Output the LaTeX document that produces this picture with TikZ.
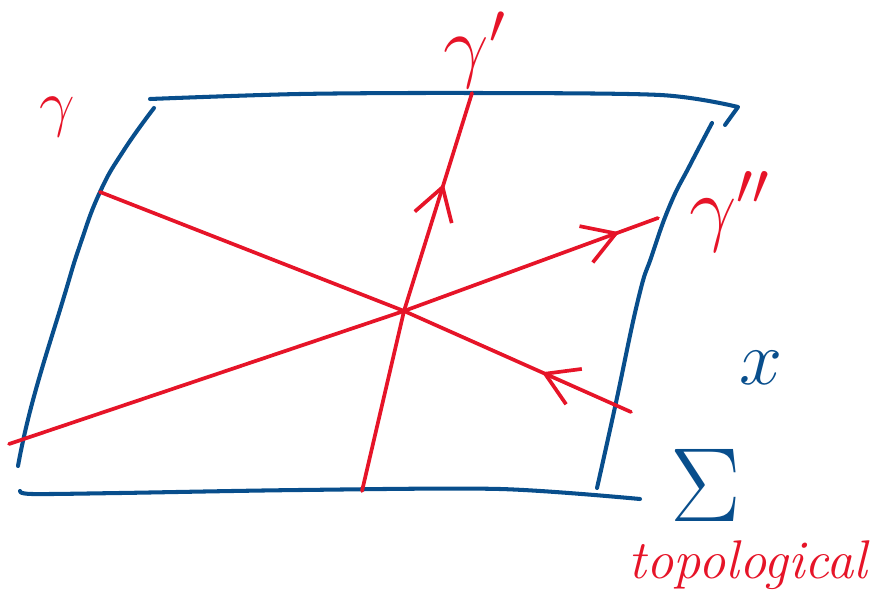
\RequirePackage{fix-cm}
\documentclass[tikz,border=0pt]{standalone}
\usetikzlibrary{arrows.meta,decorations.markings}
\definecolor{inkblue}{RGB}{8,78,140}
\definecolor{inkred}{RGB}{230,20,40}

\begin{document}
\begin{tikzpicture}[
        x=0.01cm, y=-0.01cm,
        line join=round, line cap=round,
        sheet/.style={draw=inkblue, line width=1.15pt},
        curve/.style={draw=inkred, line width=1.05pt},
        flow/.style={
            postaction={decorate, decoration={markings,
            mark=at position #1 with {\arrow{Straight Barb[length=9pt, width=11pt]}}}}
        },
        lbl/.style={inner sep=0pt}
    ]
    \useasboundingbox (0,0) rectangle (871,613);
    \path (404,311) coordinate (mid)
        (362,491) coordinate (gp-start)
        (472, 93) coordinate (gp-end)
        (631,412) coordinate (g-start)
        (100,192) coordinate (g-end)
        (  9,444) coordinate (gpp-start)
        (658,218) coordinate (gpp-end)
    ;
    % the surface, four sides
    \draw[sheet] plot[smooth] coordinates {(150,99) (300,94) (470,93) (660,95) (738,107)} -- (725,125);
    \draw[sheet] plot[smooth, tension=0.8] coordinates {(154,108) (124,150) (100,192) (80,245) (63,300) (33,400) (18,466)};
    \draw[sheet] plot[smooth, tension=0.8] coordinates {(712,123) (690,165) (670,205) (652,255) (638,300) (615,407) (597,488)};
    \draw[sheet] plot[smooth] coordinates {(20,491) (32,494) (120,493) (300,490) (500,489) (640,499)};

    % the three curves through one point
    \draw[curve, flow=0.77] (gp-start) -- (mid) -- (gp-end);
    \draw[curve, flow=0.17] (g-start) -- (mid) -- (g-end);
    \draw[curve, flow=0.94] (gpp-start) -- (mid) -- (gpp-end);

    \node[lbl, text=inkred, font=\fontsize{18}{18}\selectfont] (gamma) at (57,117) {$\gamma$};
    \node[lbl, text=inkred, font=\fontsize{23}{23}\selectfont] (gamma-p) at (475,50) {$\gamma'$};
    \node[lbl, text=inkred, font=\fontsize{24}{24}\selectfont] (gamma-pp) at (730,212) {$\gamma''$};
    \node[lbl, text=inkblue, font=\fontsize{22}{22}\selectfont] (pt) at (761,368) {$x$};
    \node[lbl, text=inkblue, font=\fontsize{30}{30}\selectfont] (surf) at (706,485) {$\Sigma$};
    \node[lbl, text=inkred, font=\fontsize{15.5}{15.5}\selectfont\itshape] (kind) at (748,565) {topological};
\end{tikzpicture}
\end{document}
